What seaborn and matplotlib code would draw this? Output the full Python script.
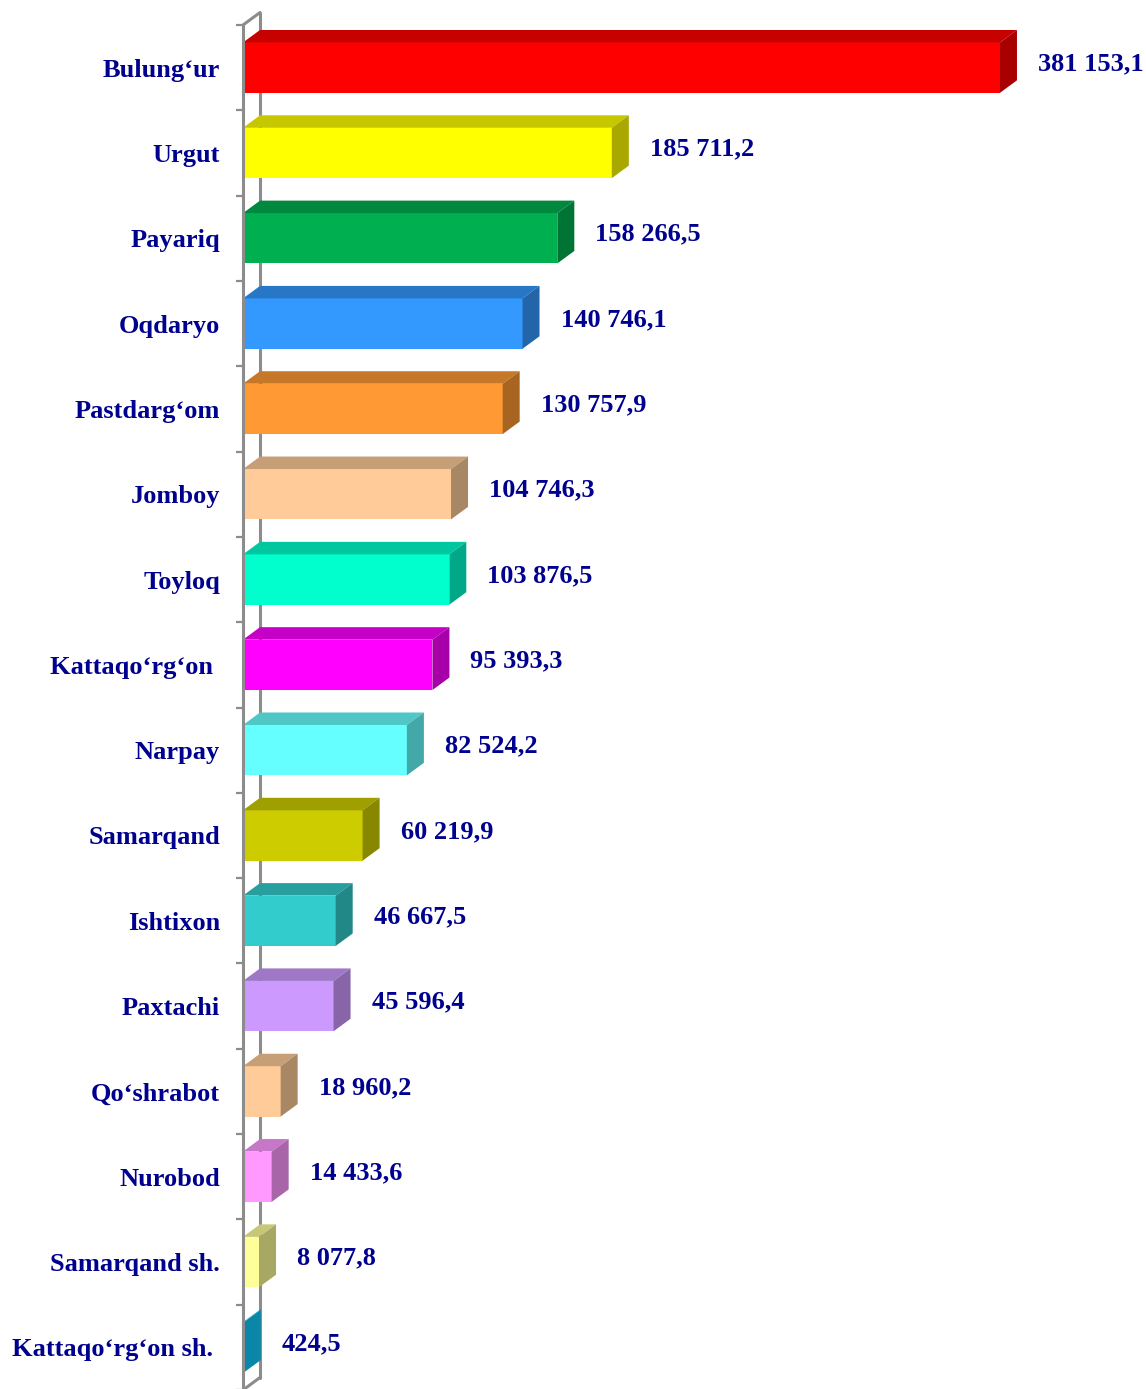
import matplotlib
matplotlib.use("Agg")
import matplotlib.pyplot as plt
from matplotlib.patches import Polygon
from matplotlib.lines import Line2D
import matplotlib.colors as mcolors
import seaborn as sns
import pandas as pd

categories = ["Bulung‘ur", "Urgut", "Payariq", "Oqdaryo", "Pastdarg‘om", "Jomboy",
              "Toyloq", "Kattaqo‘rg‘on ", "Narpay", "Samarqand", "Ishtixon", "Paxtachi",
              "Qo‘shrabot", "Nurobod", "Samarqand sh.", "Kattaqo‘rg‘on sh. "]
values = [381153.1, 185711.2, 158266.5, 140746.1, 130757.9, 104746.3,
          103876.5, 95393.3, 82524.2, 60219.9, 46667.5, 45596.4,
          18960.2, 14433.6, 8077.8, 424.5]
value_labels = ["381 153,1", "185 711,2", "158 266,5", "140 746,1", "130 757,9", "104 746,3",
                "103 876,5", "95 393,3", "82 524,2", "60 219,9", "46 667,5", "45 596,4",
                "18 960,2", "14 433,6", "8 077,8", "424,5"]
colors = ["#FF0000", "#FFFF00", "#00B050", "#3399FF", "#FF9933", "#FFCC99",
          "#00FFCC", "#FF00FF", "#66FFFF", "#CCCC00", "#33CCCC", "#CC99FF",
          "#FFCC99", "#FF99FF", "#FFFF99", "#0FCCFF"]

df = pd.DataFrame({"district": categories, "value": values})

sns.set_theme(style="white")
plt.rcParams["font.family"] = ["Liberation Serif", "DejaVu Serif"]

W, H = 1146, 1389
fig = plt.figure(figsize=(W / 100, H / 100), dpi=100)
ax_left_px, ax_top_px, ax_bottom_px = 243, 25, 1390
ax = fig.add_axes([ax_left_px / W, (H - ax_bottom_px) / H, 1 - ax_left_px / W,
                   (ax_bottom_px - ax_top_px) / H])

sns.barplot(data=df, x="value", y="district", hue="district", palette=colors,
            orient="h", width=0.59, saturation=1, legend=False, ax=ax,
            linewidth=0, zorder=3)

xmax = 454683
ax.set_xlim(0, xmax)
ax.set_ylim(len(categories) - 0.5, -0.5)

# depth of the 3D effect (in data units), from pixels
px_per_val = (W - ax_left_px) / xmax
px_per_cat = (ax_bottom_px - ax_top_px) / len(categories)
dx = 17 / px_per_val
dy = 12.5 / px_per_cat

def shade(c, f):
    r, g, b = mcolors.to_rgb(c)
    return (r * f, g * f, b * f)

gray = "#8C8C8C"
n = len(categories)
# back wall line & top/bottom diagonals
ax.add_line(Line2D([dx, dx], [-0.5 - dy, n - 0.5 - dy], color=gray, lw=2.2,
                   zorder=1, clip_on=False))
ax.add_line(Line2D([0, dx], [-0.5, -0.5 - dy], color=gray, lw=2.2, zorder=1, clip_on=False))
ax.add_line(Line2D([0, dx], [n - 0.5, n - 0.5 - dy], color=gray, lw=2.2, zorder=1, clip_on=False))

for patch, col in zip(ax.patches, colors):
    x0, y0 = patch.get_x(), patch.get_y()
    w, h = patch.get_width(), patch.get_height()
    top = Polygon([(x0, y0), (x0 + w, y0), (x0 + w + dx, y0 - dy), (x0 + dx, y0 - dy)],
                  closed=True, facecolor=shade(col, 0.78), edgecolor="none", zorder=3)
    side = Polygon([(x0 + w, y0), (x0 + w + dx, y0 - dy), (x0 + w + dx, y0 + h - dy),
                    (x0 + w, y0 + h)], closed=True, facecolor=shade(col, 0.66),
                   edgecolor="none", zorder=3)
    ax.add_patch(top)
    ax.add_patch(side)

txt_color = "#00008F"
for i, (v, lab) in enumerate(zip(values, value_labels)):
    ax.annotate(lab, xy=(v + dx, i), xytext=(21 * 0.72, 4 * 0.72),
                textcoords="offset points", ha="left", va="center",
                fontsize=19, fontweight="bold", color=txt_color, zorder=5,
                annotation_clip=False)

# front wall line
for s in ["top", "right", "bottom"]:
    ax.spines[s].set_visible(False)
ax.spines["left"].set_color(gray)
ax.spines["left"].set_linewidth(2.2)
ax.spines["left"].set_zorder(4)

ax.set_xticks([])
ax.set_xlabel("")
ax.set_ylabel("")
ax.set_yticks(range(n))
ax.set_yticklabels(categories, fontsize=19, fontweight="bold", color=txt_color)
ax.tick_params(axis="y", which="major", length=0, pad=16.5)
ax.set_yticks([i - 0.5 for i in range(n + 1)], minor=True)
ax.tick_params(axis="y", which="minor", length=5, width=1.6, color=gray, left=True)
ax.set_facecolor("none")
fig.patch.set_facecolor("white")

fig.savefig("out.png", dpi=100, facecolor="white")
